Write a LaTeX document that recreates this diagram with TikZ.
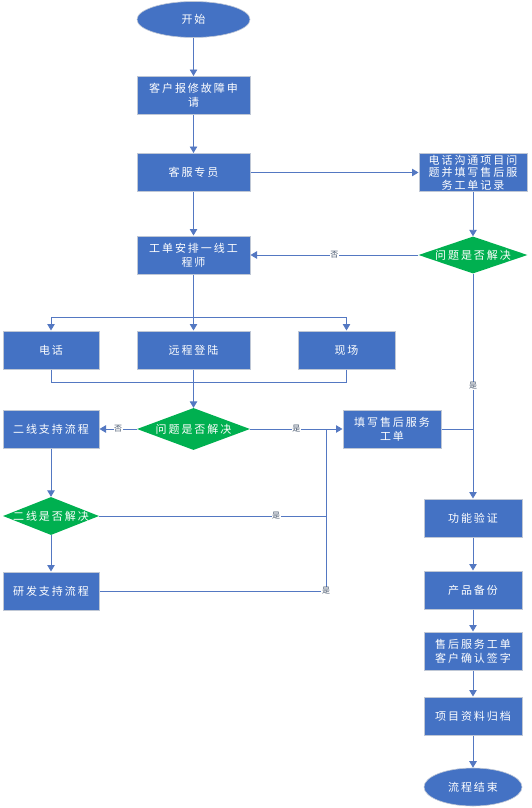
\documentclass[tikz,border=0pt]{standalone}
\usepackage{fontspec}
\setmainfont{Noto Sans CJK SC}[LetterSpace=18]
\usepackage{tikz}
\usetikzlibrary{shapes.geometric,arrows.meta}

\definecolor{boxblue}{HTML}{4472C4}
\definecolor{boxedge}{HTML}{BFC7D5}
\definecolor{okgreen}{HTML}{00B050}
\definecolor{linkblue}{HTML}{5478C2}
\definecolor{yntext}{HTML}{44546A}

\begin{document}
\begin{tikzpicture}[
  font=\fontsize{11}{14}\selectfont,
  terminal/.style={ellipse, fill=boxblue, draw=boxedge, line width=0.6pt, text=white, inner sep=0pt},
  process/.style={rectangle, fill=boxblue, draw=boxedge, line width=1pt, text=white, align=center, inner sep=0pt, minimum height=38pt},
  decision/.style={diamond, fill=okgreen, inner sep=0pt, label={[text=white]center:#1}},
  line/.style={draw=linkblue, line width=0.9pt},
  arr/.style={line, -{Triangle[width=7.5pt,length=6.5pt]}, color=linkblue},
  yn/.style={fill=white, text=yntext, font=\fontsize{8}{9}\selectfont, inner sep=0.6pt}
]
\useasboundingbox (0,0) rectangle (531pt,-808pt);

%nodes
\node (start) [terminal, minimum width=113pt, minimum height=36pt] at (193.5pt,-19.5pt) {开始};
\node (req) [process, minimum width=113pt, below of=start, node distance=76pt] {客户报修故障申\\请};
\node (cs) [process, minimum width=113pt, below of=req, node distance=77pt] {客服专员};
\node (phone) [process, minimum width=108pt, right of=cs, node distance=279.5pt, font=\fontsize{11}{12.5}\selectfont] {电话沟通项目问\\题并填写售后服\\务工单记录};
\node (qr) [decision={问题是否解决}, minimum width=109pt, minimum height=37pt, below of=phone, node distance=82.5pt] {};
\node (assign) [process, minimum width=113pt, below of=cs, node distance=82.5pt] {工单安排一线工\\程师};
\node (split) [coordinate, below of=assign, node distance=62pt] {};

\node (remote) [process, minimum width=113pt, below of=assign, node distance=95pt] {远程登陆};
\node (tel) [process, minimum width=96pt, left of=remote, node distance=142.5pt] {电话};
\node (site) [process, minimum width=97pt, right of=remote, node distance=153pt] {现场};
\node (merge) [coordinate, below of=remote, node distance=32pt] {};

\node (qm) [decision={问题是否解决}, minimum width=113pt, minimum height=42pt, below of=remote, node distance=79pt] {};
\node (second) [process, minimum width=96pt, left of=qm, node distance=142.5pt] {二线支持流程};
\node (fill) [process, minimum width=98pt, right of=qm, node distance=198.5pt] {填写售后服务\\工单};
\node (join) [coordinate, left of=fill, node distance=66pt] {};
\node (q2) [decision={二线是否解决}, minimum width=96pt, minimum height=38pt, below of=second, node distance=87pt] {};
\node (rd) [process, minimum width=96pt, below of=q2, node distance=75pt] {研发支持流程};

\node (verify) [process, minimum width=98pt, below of=qr, node distance=263pt] {功能验证};
\node (backup) [process, minimum width=98pt, below of=verify, node distance=72pt] {产品备份};
\node (sign) [process, minimum width=98pt, below of=backup, node distance=61pt] {售后服务工单\\客户确认签字};
\node (archive) [process, minimum width=98pt, below of=sign, node distance=65pt] {项目资料归档};
\node (end) [terminal, minimum width=98pt, minimum height=38pt, below of=archive, node distance=71pt] {流程结束};

%links
\draw[arr] (start) -- (req);
\draw[arr] (req) -- (cs);
\draw[arr] (cs) -- (phone);
\draw[arr] (phone) -- (qr);
\draw[arr] (cs) -- (assign);
\draw[arr] (qr) -- node[yn] {否} (assign);

\draw[line] (assign) -- (split);
\draw[arr] (split) -| (tel);
\draw[arr] (split) -| (site);
\draw[arr] (split) -- (remote);
\draw[line] (tel) |- (merge);
\draw[line] (site) |- (merge);
\draw[arr] (remote) -- (qm);

\draw[arr] (qm) -- node[yn] {否} (second);
\draw[arr] (qm) -- node[yn] {是} (fill);
\draw[arr] (second) -- (q2);
\draw[arr] (q2) -- (rd);
\draw[line] (q2) -- node[yn, pos=0.78] {是} (q2 -| join) -- (join);
\draw[line] (rd) -- (rd -| join) node[yn] {是} -- (join);

\draw[line] (fill) -- (fill -| verify);
\draw[arr] (qr) -- node[yn] {是} (verify);
\draw[arr] (verify) -- (backup);
\draw[arr] (backup) -- (sign);
\draw[arr] (sign) -- (archive);
\draw[arr] (archive) -- (end);
\end{tikzpicture}
\end{document}
